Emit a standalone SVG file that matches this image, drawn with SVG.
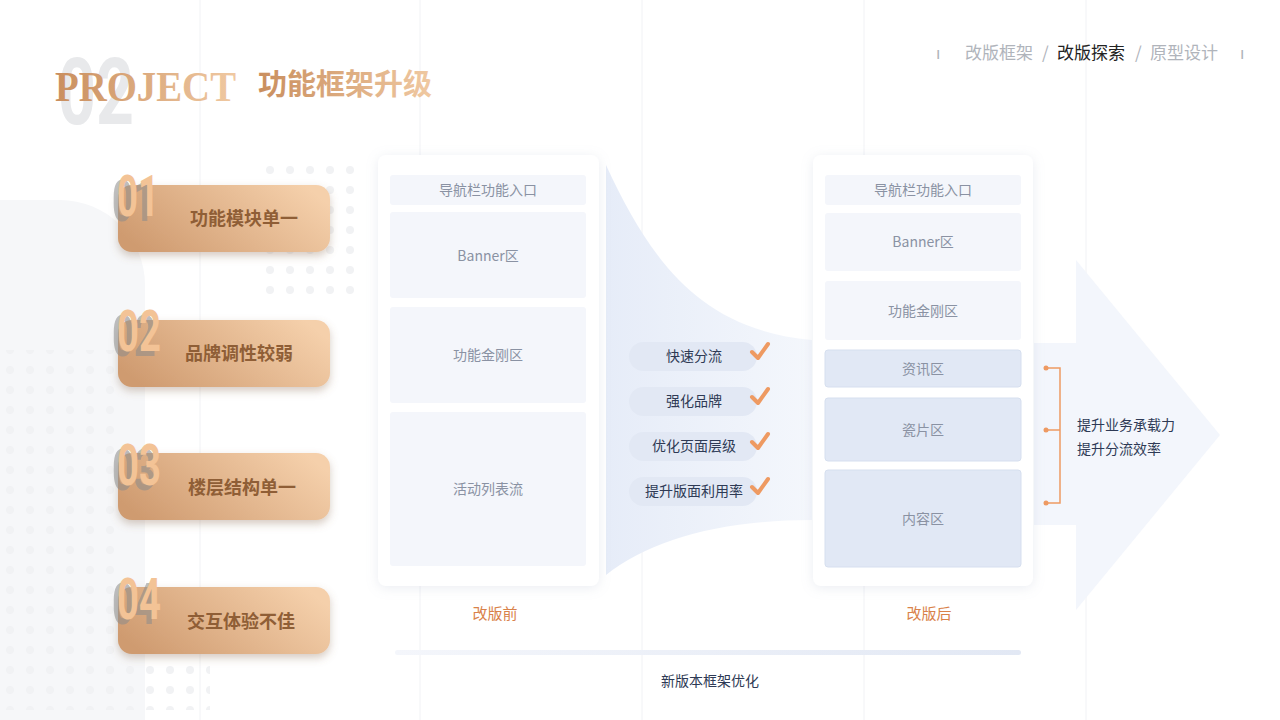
<svg xmlns="http://www.w3.org/2000/svg" width="1280" height="720" viewBox="0 0 1280 720">
<defs>
<linearGradient id="gold" x1="0" y1="0.7" x2="1" y2="0.3"><stop offset="0" stop-color="#cf9b70"/><stop offset="1" stop-color="#f5d0ab"/></linearGradient>
<linearGradient id="goldt" x1="0" y1="0" x2="1" y2="0"><stop offset="0" stop-color="#c98e5e"/><stop offset="1" stop-color="#f0c9a2"/></linearGradient>
<linearGradient id="flow" x1="0" y1="0" x2="1" y2="0"><stop offset="0" stop-color="#e6ecf8"/><stop offset="1" stop-color="#f4f7fc"/></linearGradient>
<linearGradient id="bar" x1="0" y1="0" x2="1" y2="0"><stop offset="0" stop-color="#f4f6fb"/><stop offset="1" stop-color="#e2e8f4"/></linearGradient>
<filter id="sh" x="-20%" y="-20%" width="140%" height="150%"><feDropShadow dx="0" dy="4" stdDeviation="4" flood-color="#8a6a50" flood-opacity="0.35"/></filter>
<filter id="psh" x="-10%" y="-10%" width="120%" height="120%"><feDropShadow dx="0" dy="2" stdDeviation="6" flood-color="#9aa6bd" flood-opacity="0.2"/></filter>
<pattern id="dots" width="20" height="20" patternUnits="userSpaceOnUse"><circle cx="10" cy="10" r="4" fill="#f1f2f4"/></pattern>
<style>
.t{font-family:"Noto Sans CJK SC","Noto Sans",sans-serif}
.lbl{font-size:18px;font-weight:bold;fill:#8f5e36}
.num{font-family:"Roboto","Noto Sans",sans-serif;font-size:58px;font-weight:bold}
.blk{fill:#f4f6fb}
.blu{fill:#e1e8f5;stroke:#d6dfef}
.bt{font-size:14px;fill:#8a92a3;text-anchor:middle}
.pill rect{fill:#e2e8f4}
.pill text{font-size:14px;fill:#2e3a55;text-anchor:middle}
.chk{fill:none;stroke:#ee9a62;stroke-width:4;stroke-linecap:round;stroke-linejoin:round}
</style>
</defs>
<rect width="1280" height="720" fill="#ffffff"/>
<g stroke="#f1f2f5" stroke-width="1">
<line x1="200" y1="0" x2="200" y2="720"/><line x1="420" y1="0" x2="420" y2="720"/><line x1="642" y1="0" x2="642" y2="720"/><line x1="864" y1="0" x2="864" y2="720"/><line x1="1086" y1="0" x2="1086" y2="720"/>
</g>
<path d="M0 200 H60 A85 85 0 0 1 145 285 V720 H0 Z" fill="#f6f7f9"/>
<rect x="255" y="165" width="105" height="135" fill="url(#dots)"/>
<rect x="0" y="350" width="120" height="360" fill="url(#dots)"/>
<rect x="100" y="620" width="110" height="90" fill="url(#dots)"/>

<g id="title">
<text x="58" y="124" class="num" style="font-size:92px;fill:#e8e9eb" textLength="76" lengthAdjust="spacingAndGlyphs">02</text>
<text x="55" y="101" style="font-family:'Liberation Serif',serif;font-size:42px;font-weight:bold;fill:url(#goldt)" textLength="181" lengthAdjust="spacingAndGlyphs">PROJECT</text>
<text x="258" y="95" class="t" style="font-size:29px;font-weight:bold;fill:url(#goldt)">功能框架升级</text>
</g>
<g id="topnav" class="t" style="font-size:17px">
<text x="936" y="59" fill="#b0b4bb">ı</text>
<text x="965" y="59" fill="#b0b4bb">改版框架</text>
<text x="1042" y="59" fill="#b0b4bb">/</text>
<text x="1057" y="59" fill="#222">改版探索</text>
<text x="1135" y="59" fill="#b0b4bb">/</text>
<text x="1150" y="59" fill="#b0b4bb">原型设计</text>
<text x="1240" y="59" fill="#b0b4bb">ı</text>
</g>

<g id="card1" class="t"><rect x="118" y="185" width="212" height="67" rx="14" fill="url(#gold)" filter="url(#sh)"/><text x="112" y="221" class="num" fill="#8c8c8c" opacity="0.55" textLength="42" lengthAdjust="spacingAndGlyphs">01</text><text x="117" y="216" class="num" style="fill:#f3c396" textLength="42" lengthAdjust="spacingAndGlyphs">01</text><text x="190" y="225" class="lbl">功能模块单一</text></g>
<g id="card2" class="t"><rect x="118" y="320" width="212" height="67" rx="14" fill="url(#gold)" filter="url(#sh)"/><text x="112" y="356" class="num" fill="#8c8c8c" opacity="0.55" textLength="44" lengthAdjust="spacingAndGlyphs">02</text><text x="117" y="351" class="num" style="fill:#f3c396" textLength="44" lengthAdjust="spacingAndGlyphs">02</text><text x="185" y="360" class="lbl">品牌调性较弱</text></g>
<g id="card3" class="t"><rect x="118" y="453" width="212" height="67" rx="14" fill="url(#gold)" filter="url(#sh)"/><text x="112" y="490" class="num" fill="#8c8c8c" opacity="0.55" textLength="44" lengthAdjust="spacingAndGlyphs">03</text><text x="117" y="485" class="num" style="fill:#f3c396" textLength="44" lengthAdjust="spacingAndGlyphs">03</text><text x="188" y="494" class="lbl">楼层结构单一</text></g>
<g id="card4" class="t"><rect x="118" y="587" width="212" height="67" rx="14" fill="url(#gold)" filter="url(#sh)"/><text x="112" y="624" class="num" fill="#8c8c8c" opacity="0.55" textLength="44" lengthAdjust="spacingAndGlyphs">04</text><text x="117" y="619" class="num" style="fill:#f3c396" textLength="44" lengthAdjust="spacingAndGlyphs">04</text><text x="187" y="628" class="lbl">交互体验不佳</text></g>

<g id="connectors">
<path d="M606 165 C650 260 700 330 812 340 L812 520 C720 520 650 540 606 575 Z" fill="url(#flow)"/>
<path d="M1034 343 H1076 V260 L1220 435 L1076 610 V525 H1034 Z" fill="#f3f6fc"/>
<path d="M1046 368 H1060 V503 H1046 M1046 430 H1060" fill="none" stroke="#ee9a62" stroke-width="1.5"/>
<circle cx="1046" cy="368" r="2.5" fill="#ee9a62"/><circle cx="1046" cy="430" r="2.5" fill="#ee9a62"/><circle cx="1046" cy="503" r="2.5" fill="#ee9a62"/>
<rect x="395" y="650" width="626" height="5" rx="2.5" fill="url(#bar)"/>
</g>

<g id="before" class="t">
<rect x="378" y="155" width="221" height="431" rx="8" fill="#fff" filter="url(#psh)"/>
<rect x="390" y="175" width="196" height="30" rx="3" class="blk"/><text x="488" y="195" class="bt">导航栏功能入口</text>
<rect x="390" y="212" width="196" height="86" rx="3" class="blk"/><text x="488" y="261" class="bt">Banner区</text>
<rect x="390" y="307" width="196" height="96" rx="3" class="blk"/><text x="488" y="360" class="bt">功能金刚区</text>
<rect x="390" y="412" width="196" height="154" rx="3" class="blk"/><text x="488" y="494" class="bt">活动列表流</text>
<text x="495" y="619" style="font-size:15px;fill:#d9824a;text-anchor:middle">改版前</text>
</g>

<g id="after" class="t">
<rect x="813" y="155" width="220" height="431" rx="8" fill="#fff" filter="url(#psh)"/>
<rect x="825" y="175" width="196" height="30" rx="3" class="blk"/><text x="923" y="195" class="bt">导航栏功能入口</text>
<rect x="825" y="213" width="196" height="58" rx="3" class="blk"/><text x="923" y="247" class="bt">Banner区</text>
<rect x="825" y="281" width="196" height="59" rx="3" class="blk"/><text x="923" y="316" class="bt">功能金刚区</text>
<rect x="825" y="350" width="196" height="37" rx="3" class="blu"/><text x="923" y="374" class="bt">资讯区</text>
<rect x="825" y="398" width="196" height="63" rx="3" class="blu"/><text x="923" y="435" class="bt">瓷片区</text>
<rect x="825" y="470" width="196" height="97" rx="3" class="blu"/><text x="923" y="524" class="bt">内容区</text>
<text x="929" y="619" style="font-size:15px;fill:#d9824a;text-anchor:middle">改版后</text>
</g>

<g id="pills" class="t">
<g class="pill"><rect x="629" y="342" width="128" height="29" rx="14.5"/><text x="694" y="361">快速分流</text><path class="chk" d="M752 352 L758 358 L768 344"/></g>
<g class="pill"><rect x="629" y="387" width="128" height="29" rx="14.5"/><text x="694" y="406">强化品牌</text><path class="chk" d="M752 397 L758 403 L768 389"/></g>
<g class="pill"><rect x="629" y="432" width="128" height="29" rx="14.5"/><text x="694" y="451">优化页面层级</text><path class="chk" d="M752 442 L758 448 L768 434"/></g>
<g class="pill"><rect x="629" y="477" width="128" height="29" rx="14.5"/><text x="694" y="496">提升版面利用率</text><path class="chk" d="M752 487 L758 493 L768 479"/></g>
</g>

<g id="labels" class="t" style="font-size:14px;fill:#2e3a55">
<text x="1077" y="430">提升业务承载力</text>
<text x="1077" y="454">提升分流效率</text>
<text x="710" y="686" text-anchor="middle">新版本框架优化</text>
</g>
</svg>
